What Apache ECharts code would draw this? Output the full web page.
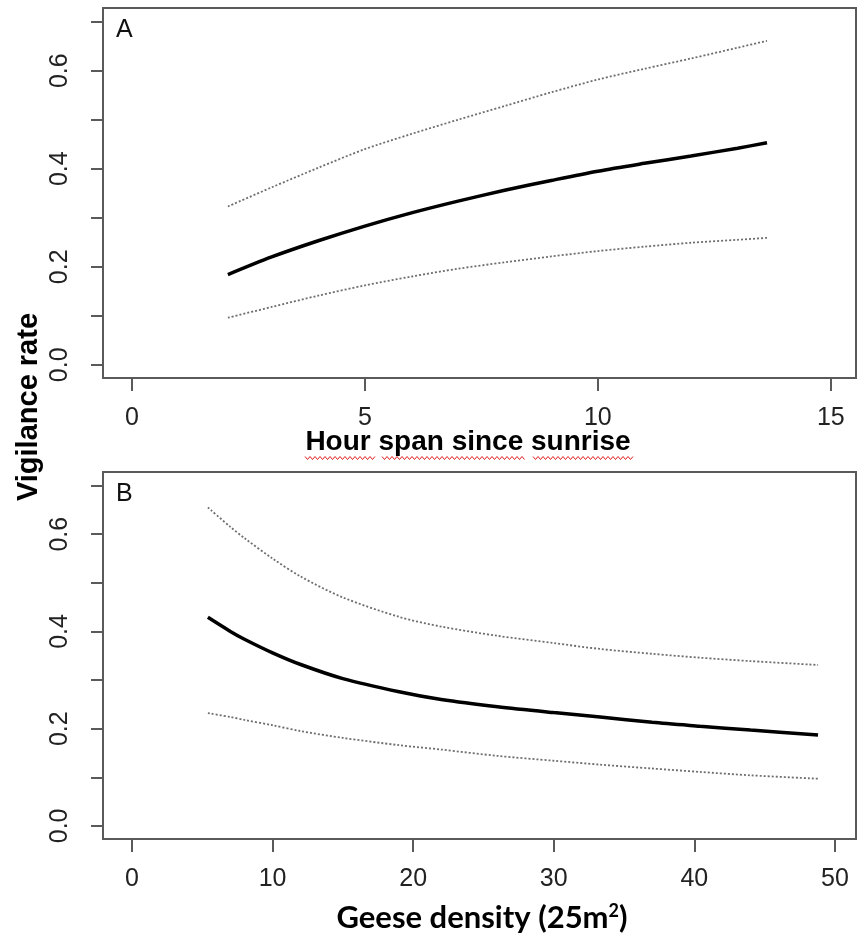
<!DOCTYPE html>
<html>
<head>
<meta charset="utf-8">
<script src="https://cdn.jsdelivr.net/npm/echarts@6/dist/echarts.min.js"></script>
<style>
  html, body { margin: 0; padding: 0; background: #fff; }
  #chart { width: 857px; height: 938px; }
</style>
</head>
<body>
<div id="chart"></div>
<script>
// Panel A: vigilance rate vs hours since sunrise
var hoursA = [2.06, 3, 4, 5, 6, 7, 8, 9, 10, 11, 12, 13, 13.63];
var fitA   = [0.184, 0.220, 0.253, 0.283, 0.310, 0.334, 0.356, 0.376, 0.395, 0.411, 0.426, 0.442, 0.453];
var upperA = [0.323, 0.362, 0.402, 0.440, 0.471, 0.500, 0.528, 0.556, 0.582, 0.604, 0.625, 0.647, 0.661];
var lowerA = [0.096, 0.118, 0.141, 0.162, 0.180, 0.196, 0.209, 0.221, 0.232, 0.241, 0.249, 0.255, 0.259];

// Panel B: vigilance rate vs geese density
var densityB = [5.4, 7, 8, 10, 12, 15, 19, 22, 26, 30, 33.3, 37, 40.4, 44, 48.8];
var fitB     = [0.429, 0.400, 0.384, 0.356, 0.332, 0.303, 0.276, 0.260, 0.245, 0.233, 0.224, 0.213, 0.205, 0.197, 0.187];
var upperB   = [0.655, 0.615, 0.592, 0.550, 0.513, 0.470, 0.430, 0.410, 0.391, 0.376, 0.364, 0.354, 0.346, 0.339, 0.331];
var lowerB   = [0.232, 0.224, 0.218, 0.207, 0.195, 0.181, 0.166, 0.157, 0.144, 0.134, 0.126, 0.118, 0.111, 0.104, 0.097];

var xTicksA = [0, 5, 10, 15];
var xTicksB = [0, 10, 20, 30, 40, 50];
var yTicks = [0, 0.1, 0.2, 0.3, 0.4, 0.5, 0.6, 0.7];
var yLabels = [0, 0.2, 0.4, 0.6];

var panelLetters = ['A', 'B'];
var xTitleA = 'Hour span since sunrise';
var yTitle = 'Vigilance rate';

function pairs(xs, ys) { return xs.map(function (x, i) { return [x, ys[i]]; }); }

var axisCol = '#5a5a5a';
var tickFont = { fontFamily: 'Liberation Sans, Arial, sans-serif', fontSize: 25, color: '#222' };

function xAxisCfg(gi, min, max, ticks) {
  return {
    type: 'value', gridIndex: gi, min: min, max: max, position: 'bottom',
    axisLine: { show: false, onZero: false },
    splitLine: { show: false },
    axisTick: { show: true, length: 13, lineStyle: { color: axisCol, width: 2 }, customValues: ticks },
    axisLabel: Object.assign({ margin: 28, customValues: ticks }, tickFont)
  };
}
function yAxisCfg(gi) {
  return {
    type: 'value', gridIndex: gi, min: -0.027, max: 0.728, position: 'left',
    axisLine: { show: false, onZero: false },
    splitLine: { show: false },
    axisTick: { show: true, length: 12, lineStyle: { color: axisCol, width: 2 }, customValues: yTicks },
    axisLabel: Object.assign({ margin: 30, rotate: 90, customValues: yLabels,
      formatter: function (v) { return Number(v).toFixed(1); } }, tickFont)
  };
}
function lineSeries(gi, xs, ys, main) {
  return {
    type: 'line', xAxisIndex: gi, yAxisIndex: gi, data: pairs(xs, ys),
    symbol: 'none', smooth: 0.3, silent: true,
    lineStyle: main ? { color: '#000', width: 3.5 } : { color: '#6e6e6e', width: 1.8, type: [2, 2] }
  };
}
function squiggle(x0, x1, y) {
  var pts = [], up = true;
  for (var x = x0; x <= x1; x += 2.5) { pts.push([x, up ? y - 1.5 : y + 1.5]); up = !up; }
  return { type: 'polyline', shape: { points: pts }, style: { stroke: '#e02020', lineWidth: 1, fill: null } };
}

var chart = echarts.init(document.getElementById('chart'), null, { renderer: 'canvas' });
chart.setOption({
  animation: false,
  backgroundColor: '#fff',
  grid: [
    { left: 103, top: 8, width: 753, height: 370, show: true, borderColor: axisCol, borderWidth: 2, backgroundColor: 'transparent' },
    { left: 103, top: 472, width: 753, height: 367, show: true, borderColor: axisCol, borderWidth: 2, backgroundColor: 'transparent' }
  ],
  xAxis: [xAxisCfg(0, -0.62, 15.54, xTicksA), xAxisCfg(1, -2.06, 51.5, xTicksB)],
  yAxis: [yAxisCfg(0), yAxisCfg(1)],
  series: [
    lineSeries(0, hoursA, upperA, false),
    lineSeries(0, hoursA, lowerA, false),
    lineSeries(0, hoursA, fitA, true),
    lineSeries(1, densityB, upperB, false),
    lineSeries(1, densityB, lowerB, false),
    lineSeries(1, densityB, fitB, true)
  ],
  graphic: [
    { type: 'text', left: 116, top: 18, style: { text: panelLetters[0], font: '25px "Liberation Sans", Arial, sans-serif', fill: '#111' } },
    { type: 'text', left: 116, top: 482, style: { text: panelLetters[1], font: '25px "Liberation Sans", Arial, sans-serif', fill: '#111' } },
    { type: 'text', x: 468, y: 442, style: { text: xTitleA, font: 'bold 28px "Liberation Sans", Arial, sans-serif', fill: '#000', align: 'center', verticalAlign: 'middle' } },
    { type: 'text', x: 29, y: 407, rotation: Math.PI / 2, style: { text: yTitle, font: 'bold 29px "Liberation Sans", Arial, sans-serif', fill: '#000', align: 'center', verticalAlign: 'middle' } },
    { type: 'text', x: 482, y: 918, style: {
        text: '{t|Geese density (25m}{s|2}{t|)}', align: 'center', verticalAlign: 'middle',
        rich: {
          t: { font: 'bold 31px Lato, "Open Sans", sans-serif', fill: '#000' },
          s: { font: 'bold 18px Lato, "Open Sans", sans-serif', fill: '#000', verticalAlign: 'top', padding: [0, 0, 14, 0] }
        } } },
    squiggle(305, 377, 458),
    squiggle(382, 525, 458),
    squiggle(533, 633, 458)
  ]
});
</script>
</body>
</html>
